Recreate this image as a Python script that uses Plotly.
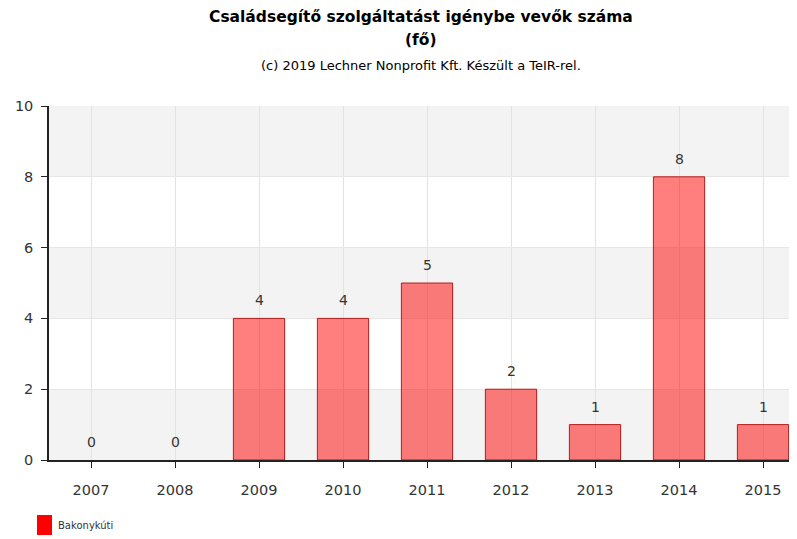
import plotly.graph_objects as go

years = ["2007", "2008", "2009", "2010", "2011", "2012", "2013", "2014", "2015"]
values = [0, 0, 4, 4, 5, 2, 1, 8, 1]
series_name = "Bakonykúti"
y_ticks = [0, 2, 4, 6, 8, 10]

title_main = "Családsegítő szolgáltatást igénybe vevők száma"
title_unit = "(fő)"
subtitle = "(c) 2019 Lechner Nonprofit Kft. Készült a TeIR-rel."

FONT = "DejaVu Sans"
TXT = "#333333"

W, H = 797, 539
ML, MR, MT, MB = 41, 0, 98, 87
PW, PH = W - ML - MR, H - MT - MB


def px(xp):
    return (xp - ML) / PW


def py(yp):
    return (H - MB - yp) / PH


fig = go.Figure()
fig.add_trace(go.Bar(
    x=years, y=[v if v else None for v in values], name=series_name,
    marker=dict(color="rgba(255,0,0,0.5)", line=dict(color="rgba(170,0,0,0.85)", width=1)),
    showlegend=False, hoverinfo="x+y",
))

# value labels (category index positions)
for i, v in enumerate(values):
    fig.add_annotation(x=i, y=v, xref="x", yref="y", text=str(v), showarrow=False,
                       yshift=18, font=dict(family=FONT, size=14, color=TXT))

# alternating bands
for i in range(len(y_ticks) - 1):
    if (i % 2) == 0:
        fig.add_shape(type="rect", xref="paper", yref="y", x0=0, x1=1,
                      y0=y_ticks[i], y1=y_ticks[i + 1],
                      fillcolor="#f3f3f3", line=dict(width=0), layer="below")

# titles
for txt, ypx, sz in [("<b>" + title_main + "</b>", 9, 15.5),
                     ("<b>" + title_unit + "</b>", 32, 15.5),
                     (subtitle, 57, 13)]:
    fig.add_annotation(x=px(413), y=py(ypx), xref="paper", yref="paper",
                       xanchor="center", yanchor="middle", text=txt, showarrow=False,
                       font=dict(family=FONT, size=sz, color="#000000"))

# legend drawn as shape + text
fig.add_shape(type="rect", xref="paper", yref="paper",
              x0=px(29), x1=px(44), y0=py(527), y1=py(507),
              fillcolor="#ff0000", line=dict(width=0))
fig.add_annotation(x=px(48), y=py(517), xref="paper", yref="paper",
                   xanchor="left", yanchor="middle", text=series_name, showarrow=False,
                   font=dict(family=FONT, size=10, color=TXT))

fig.update_layout(
    width=W, height=H,
    margin=dict(l=ML, r=MR, t=MT, b=MB),
    paper_bgcolor="white", plot_bgcolor="white",
    bargap=0.39,
    font=dict(family=FONT, size=14, color=TXT),
)
fig.update_xaxes(
    type="category", range=[-0.5, 8.5],
    showline=True, linecolor="#222222", linewidth=1.5,
    ticks="outside", ticklen=6, tickcolor="#222222",
    ticklabelstandoff=10,
    showgrid=True, gridcolor="#e2e2e2", gridwidth=1,
    tickfont=dict(family=FONT, size=14.5, color=TXT),
)
fig.update_yaxes(
    range=[0, 10], tickvals=y_ticks,
    showline=True, linecolor="#222222", linewidth=1.5,
    ticks="outside", ticklen=6, tickcolor="#222222",
    ticklabelstandoff=5,
    showgrid=True, gridcolor="#e6e6e6", gridwidth=1,
    zeroline=False,
    tickfont=dict(family=FONT, size=14.5, color=TXT),
)

fig.write_html("out.html")
